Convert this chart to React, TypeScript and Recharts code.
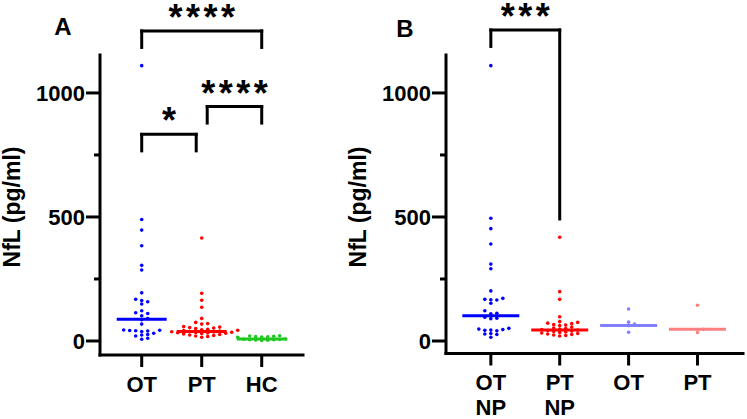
import React from 'react';
import { ScatterChart, Scatter, XAxis, YAxis, ReferenceLine } from 'recharts';

// ---------------- data ----------------
const panelACategories = [['OT'], ['PT'], ['HC']];
const panelAOT = [1110, 490, 447, 384, 305, 286, 194, 168, 163, 158, 149, 122, 114, 111, 102, 90, 86, 68, 44, 43, 42, 41, 40, 38, 31, 26, 24, 20, 11, 7];
const panelAPT = [415, 192, 164, 136, 91, 75, 70, 68, 58, 56, 54, 52, 50, 47, 45, 43, 42, 40, 38, 37, 36, 35, 34, 33, 32, 31, 30, 28, 26, 24, 22, 20, 18, 15];
const panelAHC = [21, 20, 19, 18, 17, 16, 15, 8, 7, 6, 5, 5, 4, 3, 2];
const panelAMedians = [88, 38, 8];

const panelBCategories = [['OT', 'NP'], ['PT', 'NP'], ['OT'], ['PT']];
const panelBOTNP = [1110, 495, 453, 391, 310, 291, 202, 172, 168, 166, 165, 152, 122, 112, 110, 96, 92, 90, 51, 48, 46, 44, 43, 41, 30, 28, 26, 15];
const panelBPTNP = [418, 199, 168, 98, 78, 75, 72, 70, 66, 64, 62, 56, 52, 50, 48, 46, 44, 42, 40, 38, 36, 34, 32, 30, 28, 26, 24, 22, 20];
const panelBOT = [129, 76, 68, 62, 35];
const panelBPT = [144, 47, 34];
const panelBMedians = [102, 44, 62, 47];

const yTicks = [0, 250, 500, 750, 1000];
const yLabeledTicks = [0, 500, 1000];
const yAxisTitle = 'NfL (pg/ml)';
const panelLetters = ['A', 'B'];

// significance comparisons: category indices, label, bracket level (pg/ml)
const comparisonsA = [
  { from: 0, to: 2, label: '****', level: 1250 },
  { from: 1, to: 2, label: '****', level: 945, inset: 'from' },
  { from: 0, to: 1, label: '*', level: 833, inset: 'to' },
];
const comparisonsB = [
  { from: 0, to: 1, label: '***', level: 1254, rightDropTo: 492 },
];

// ---------------- styles ----------------
const FONT = '"Liberation Sans", Arial, Helvetica, sans-serif';
const H = 419;
const XAXIS_H = 60;
const DOT_R = 1.8;
const AXIS_STROKE = { stroke: '#000', strokeWidth: 3, strokeLinecap: 'square' as const };
const DROP_PX = 16.5;
const INSET_PX = 5.5;
const X_TICK = 12;
const Y_TICK_MAJOR = 14;
const Y_TICK_MINOR = 6;

function swarm(values: number[], center: number, pxPerX: number, pxPerY: number) {
  const step = 6;
  const rowH = 3.3;
  const placed: { px: number; py: number }[] = [];
  const out: { x: number; y: number }[] = [];
  const sorted = [...values].sort((a, b) => a - b);
  for (const v of sorted) {
    const py = v * pxPerY;
    let chosen = 0;
    for (let k = 0; k < 60; k++) {
      const off = k === 0 ? 0 : (k % 2 === 1 ? 1 : -1) * Math.ceil(k / 2) * step;
      if (placed.every((p) => Math.abs(p.px - off) >= step - 0.5 || Math.abs(p.py - py) >= rowH)) {
        chosen = off;
        break;
      }
    }
    placed.push({ px: chosen, py });
    out.push({ x: center + chosen / pxPerX, y: v });
  }
  return out;
}

const YTick = (props: any) => {
  const { x, y, payload } = props;
  if (!yLabeledTicks.includes(payload.value)) return <g />;
  return (
    <text x={x} y={y} dy="0.36em" textAnchor="end" fontFamily={FONT} fontWeight={700} fontSize={22} fill="#000">
      {payload.value}
    </text>
  );
};

const makeXTick = (labels: string[][]) => (props: any) => {
  const { x, y, payload } = props;
  const lines = labels[Math.round(payload.value)] || [];
  return (
    <g>
      {lines.map((l, i) => (
        <text key={i} x={x} y={y + 24.5 + i * 25} textAnchor="middle" fontFamily={FONT} fontWeight={700} fontSize={22} fill="#000">
          {l}
        </text>
      ))}
    </g>
  );
};

type Cfg = {
  left: number;
  width: number;
  yAxisWidth: number;
  marginRight: number;
  plotTop: number;
  plotBottom: number;
  xDomain: [number, number];
  yDomain: [number, number];
  categories: string[][];
  series: number[][];
  medians: number[];
  colors: string[];
  medianWidth: number;
  comparisons: any[];
};

function Panel({ cfg }: { cfg: Cfg }) {
  const { left, width, yAxisWidth, marginRight, plotTop, plotBottom, xDomain, yDomain, categories, series, medians, colors, medianWidth, comparisons } = cfg;
  const plotW = width - yAxisWidth - marginRight;
  const plotH = plotBottom - plotTop;
  const pxPerX = plotW / (xDomain[1] - xDomain[0]);
  const pxPerY = plotH / (yDomain[1] - yDomain[0]);
  const drop = DROP_PX / pxPerY;
  const inset = INSET_PX / pxPerX;
  const XTick = makeXTick(categories);

  const lineProps = { stroke: '#000', strokeWidth: 3, ifOverflow: 'visible' as const };

  const tickMarks: React.ReactNode[] = [];
  categories.forEach((_, i) => {
    tickMarks.push(
      <ReferenceLine key={`xt${i}`} segment={[{ x: i, y: yDomain[0] }, { x: i, y: yDomain[0] - X_TICK / pxPerY }]} {...lineProps} />
    );
  });
  yTicks.forEach((t, i) => {
    const len = yLabeledTicks.includes(t) ? Y_TICK_MAJOR : Y_TICK_MINOR;
    tickMarks.push(
      <ReferenceLine key={`yt${i}`} segment={[{ x: xDomain[0] - len / pxPerX, y: t }, { x: xDomain[0], y: t }]} {...lineProps} />
    );
  });

  const brackets: React.ReactNode[] = [];
  comparisons.forEach((c, i) => {
    const x1 = c.from + (c.inset === 'from' ? inset : 0);
    const x2 = c.to - (c.inset === 'to' ? inset : 0);
    brackets.push(
      <ReferenceLine
        key={`h${i}`}
        segment={[{ x: x1, y: c.level }, { x: x2, y: c.level }]}
        {...lineProps}
        strokeLinecap="square"
        label={{ value: c.label, position: 'top', offset: 1, fontSize: 36, fontWeight: 700, fill: '#000', fontFamily: FONT, letterSpacing: 3.5, dx: 1.75 }}
      />
    );
    brackets.push(
      <ReferenceLine key={`l${i}`} segment={[{ x: x1, y: c.level }, { x: x1, y: c.level - drop }]} {...lineProps} strokeLinecap="square" />
    );
    brackets.push(
      <ReferenceLine key={`r${i}`} segment={[{ x: x2, y: c.level }, { x: x2, y: c.rightDropTo ?? c.level - drop }]} {...lineProps} strokeLinecap="square" />
    );
  });

  return (
    <div style={{ position: 'absolute', left, top: 0 }}>
      <ScatterChart width={width} height={H} margin={{ top: plotTop, right: marginRight, bottom: H - plotBottom - XAXIS_H, left: 0 }}>
        <XAxis
          type="number"
          dataKey="x"
          domain={xDomain}
          allowDataOverflow
          ticks={categories.map((_, i) => i)}
          interval={0}
          height={XAXIS_H}
          tickSize={X_TICK}
          tickMargin={0}
          axisLine={AXIS_STROKE}
          tickLine={false}
          tick={XTick}
        />
        <YAxis
          type="number"
          dataKey="y"
          domain={yDomain}
          allowDataOverflow
          ticks={yTicks}
          interval={0}
          width={yAxisWidth}
          tickSize={13}
          tickMargin={2}
          axisLine={AXIS_STROKE}
          tickLine={false}
          tick={YTick}
        />
        {tickMarks}
        {series.map((vals, i) => (
          <Scatter
            key={`s${i}`}
            data={swarm(vals, i, pxPerX, pxPerY)}
            fill={colors[i]}
            isAnimationActive={false}
            shape={(p: any) => <circle cx={p.cx} cy={p.cy} r={DOT_R} fill={colors[i]} />}
          />
        ))}
        {medians.map((m, i) => (
          <Scatter
            key={`m${i}`}
            data={[{ x: i, y: m }]}
            fill={colors[i]}
            isAnimationActive={false}
            shape={(p: any) => (
              <line x1={p.cx - medianWidth / 2} x2={p.cx + medianWidth / 2} y1={p.cy} y2={p.cy} stroke={colors[i]} strokeWidth={3} />
            )}
          />
        ))}
        {brackets}
      </ScatterChart>
    </div>
  );
}

const cfgA: Cfg = {
  left: 0,
  width: 320,
  yAxisWidth: 100,
  marginRight: 17,
  plotTop: 55,
  plotBottom: 355,
  xDomain: [-0.695, 2.688],
  yDomain: [-56.5, 1153],
  categories: panelACategories,
  series: [panelAOT, panelAPT, panelAHC],
  medians: panelAMedians,
  colors: ['#0000ff', '#ff0000', '#1ec81e'],
  medianWidth: 50,
  comparisons: comparisonsA,
};

const cfgB: Cfg = {
  left: 380,
  width: 367,
  yAxisWidth: 66,
  marginRight: 4,
  plotTop: 55,
  plotBottom: 353.5,
  xDomain: [-0.651, 3.661],
  yDomain: [-50.4, 1153],
  categories: panelBCategories,
  series: [panelBOTNP, panelBPTNP, panelBOT, panelBPT],
  medians: panelBMedians,
  colors: ['#0000ff', '#ff0000', '#8080ff', '#ff8080'],
  medianWidth: 57,
  comparisons: comparisonsB,
};

export default function App() {
  return (
    <div style={{ position: 'fixed', left: 0, top: 0, width: 747, height: 419, background: '#fff', overflow: 'hidden' }}>
      <Panel cfg={cfgA} />
      <Panel cfg={cfgB} />
      <svg width={747} height={419} style={{ position: 'absolute', left: 0, top: 0, pointerEvents: 'none' }}>
        <g fontFamily={FONT} fontWeight={700} fill="#000">
          <text x={63} y={35} fontSize={24} textAnchor="middle">{panelLetters[0]}</text>
          <text x={405} y={37} fontSize={24} textAnchor="middle">{panelLetters[1]}</text>
          <text x={19.5} y={207} fontSize={23} textAnchor="middle" transform="rotate(-90 19.5 207)">{yAxisTitle}</text>
          <text x={365.5} y={207} fontSize={23} textAnchor="middle" transform="rotate(-90 365.5 207)">{yAxisTitle}</text>
        </g>
      </svg>
    </div>
  );
}
